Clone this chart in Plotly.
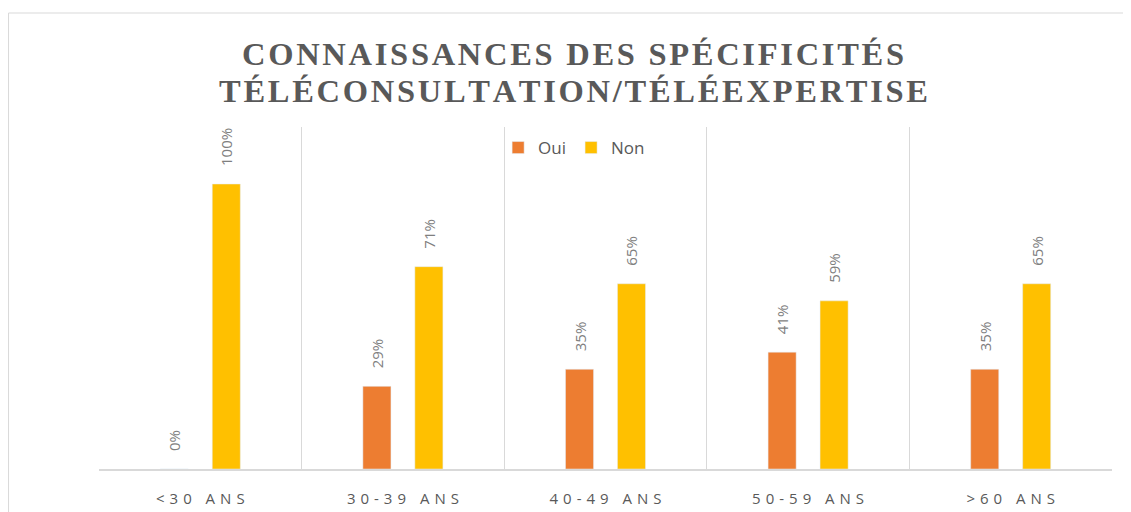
import plotly.graph_objects as go

categories = ["<30 ANS", "30-39 ANS", "40-49 ANS", "50-59 ANS", ">60 ANS"]
oui = [0.00, 0.29, 0.35, 0.41, 0.35]
non = [1.00, 0.71, 0.65, 0.59, 0.65]
title_lines = ["CONNAISSANCES DES SPÉCIFICITÉS", "TÉLÉCONSULTATION/TÉLÉEXPERTISE"]


def spaced(s, sep="\u2009"):
    # fake letter spacing, plotly has no letter-spacing option
    return sep.join(s)


def pct(vals):
    return ["\u2002\u2002" + f"{v:.0%}" for v in vals]


tick_text = [spaced(c, "\u2004") for c in categories]
label_font = dict(family="Open Sans, sans-serif", color="#7f7f7f", size=15)

fig = go.Figure()
fig.add_trace(go.Bar(
    x=categories, y=oui, name="Oui", marker_color="#ED7D31",
    text=pct(oui), textposition="outside", textangle=-90,
    textfont=label_font, cliponaxis=False, constraintext="none",
))
fig.add_trace(go.Bar(
    x=categories, y=non, name="Non", marker_color="#FFC000",
    text=pct(non), textposition="outside", textangle=-90,
    textfont=label_font, cliponaxis=False, constraintext="none",
))

fig.update_layout(
    width=1131, height=512,
    margin=dict(l=91, r=27, t=119, b=51),
    paper_bgcolor="white", plot_bgcolor="white",
    font=dict(family="Open Sans, Liberation Sans, sans-serif", color="#595959"),
    barmode="group", bargap=0.487, bargroupgap=0.46,
    legend=dict(orientation="h", x=0.394, y=0.9386, xanchor="left", yanchor="middle",
                font=dict(size=17, color="#595959"), bgcolor="rgba(0,0,0,0)",
                itemwidth=30),
    showlegend=True,
)

title_font = dict(family="Liberation Serif, DejaVu Serif, serif", size=32.5,
                  color="#595959", weight="bold")
for txt, yy in zip(title_lines, [1.2135, 1.105]):
    fig.add_annotation(text=spaced(txt, "\u200a"), xref="paper", yref="paper",
                       x=0.468, y=yy, xanchor="center", yanchor="middle",
                       showarrow=False, font=title_font)

fig.update_xaxes(
    tickvals=categories, ticktext=tick_text, tickson="boundaries",
    showgrid=True, gridcolor="#d9d9d9", gridwidth=1,
    showline=True, linecolor="#d9d9d9", linewidth=2,
    ticks="", tickfont=dict(size=15, color="#595959"), ticklabelstandoff=15,
    automargin=False,
)
fig.update_yaxes(range=[0, 1.2], visible=False, showgrid=False, automargin=False)

fig.add_shape(type="rect", xref="paper", yref="paper",
              x0=-0.0893, x1=1.2, y0=-0.5, y1=1.3333,
              line=dict(color="#d9d9d9", width=1))

fig.write_html("out.html")
